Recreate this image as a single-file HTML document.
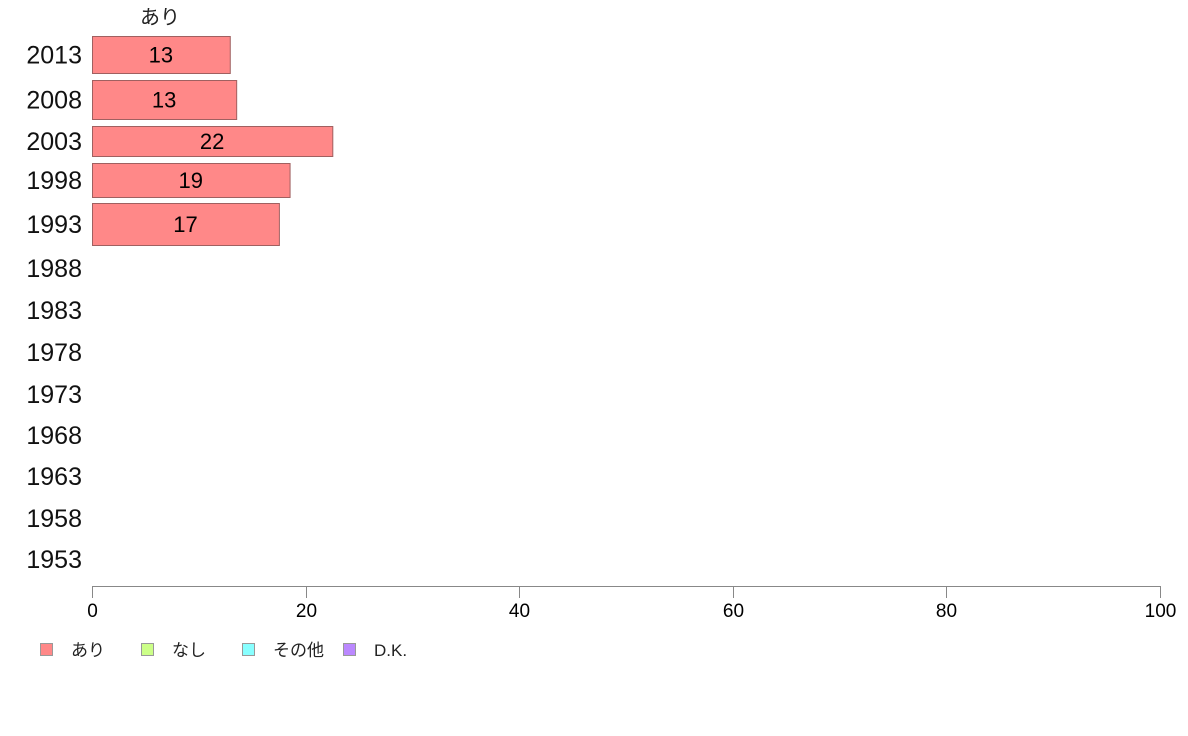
<!DOCTYPE html>
<html><head><meta charset="utf-8"><style>
body{margin:0;background:#fff;}
svg{display:block;font-family:"Liberation Sans","Noto Sans CJK JP",sans-serif;}
</style></head><body>
<svg id="chart" width="1188" height="736">
<text x="160" y="24" font-size="20" text-anchor="middle" fill="#222">あり</text>
<g id="rows"></g>
<g id="axis"></g>
<g id="legend"></g>
</svg>
<script>
const years = ["2013","2008","2003","1998","1993","1988","1983","1978","1973","1968","1963","1958","1953"];
const ariValues = [12.9,13.5,22.5,18.5,17.5,null,null,null,null,null,null,null,null];
const ariLabels = ["13","13","22","19","17","","","","","","","",""];
const xTicks = [0,20,40,60,80,100];
const legendNames = ["あり","なし","その他","D.K."];

const NS="http://www.w3.org/2000/svg";
const x0=92,x1=1160;
const xs=v=>x0+(x1-x0)*v/100;
const rowTop=[36,80,126,163,203,250,292,334,376,417,458,500,541];
const rowH=[37,39,30,34,42,36,36,36,36,36,36,36,36];
const legendColors=["#ff8888","#ccff88","#88ffff","#bb88ff"];
const legendX=[40,141,242,343];
function mk(t,a,p){const e=document.createElementNS(NS,t);for(const k in a)e.setAttribute(k,a[k]);(p||document.getElementById('chart')).appendChild(e);return e;}
const rows=document.getElementById('rows');
years.forEach((y,i)=>{
  const cy=rowTop[i]+rowH[i]/2;
  const t=mk('text',{x:82,y:cy+9,'font-size':25,'text-anchor':'end',fill:'#111'},rows);
  t.textContent=y;
  
  
  const v=ariValues[i];
  if(v!=null){
    const r=mk('rect',{x:x0+0.5,y:rowTop[i]+0.5,width:xs(v)-x0,height:rowH[i],fill:'#ff8888',stroke:'#a06060','stroke-width':1},rows);
    
    
    const l=mk('text',{x:(x0+xs(v))/2,y:cy+8,'font-size':22,'text-anchor':'middle',fill:'#000'},rows);
    l.textContent=ariLabels[i];
    
    
  }
});
const ax=document.getElementById('axis');
mk('line',{x1:x0,x2:x1,y1:586.5,y2:586.5,stroke:'#888','stroke-width':1},ax);
xTicks.forEach(t=>{
  const x=Math.round(xs(t))+0.5;
  mk('line',{x1:x,x2:x,y1:586,y2:598,stroke:'#888','stroke-width':1},ax);
  const l=mk('text',{x:x,y:617,'font-size':19,'text-anchor':'middle',fill:'#000'},ax);
  l.textContent=t;
  
  
});
const lg=document.getElementById('legend');
legendNames.forEach((n,i)=>{
  const b=mk('rect',{x:legendX[i]+0.5,y:643.5,width:12,height:12,fill:legendColors[i],stroke:'#999'},lg);
  
  
  const t=mk('text',{x:legendX[i]+31,y:656,'font-size':17,fill:'#222'},lg);
  t.textContent=n;
  
  
});
</script>
</body></html>
